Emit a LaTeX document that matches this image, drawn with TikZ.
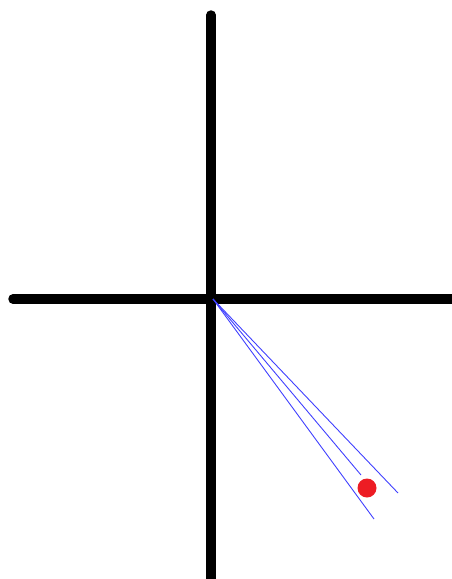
\documentclass[tikz,border=0pt]{standalone}
\begin{document}
\begin{tikzpicture}[x=1pt,y=-1pt,
  axis/.style={line width=9.5pt,black,line cap=round},
  ray/.style={line width=0.9pt,blue!75!white},
  dot/.style={fill={rgb,255:red,237;green,28;blue,36},draw=none}]
\useasboundingbox (0,0) rectangle (452,579);
\coordinate (top) at (211,15);
\coordinate (bot) at (211,585);
\coordinate (left) at (13,299);
\coordinate (right) at (458,299);
\coordinate (o) at (213,299);
\coordinate (e1) at (361,475);
\coordinate (e2) at (398,493);
\coordinate (e3) at (374,519);
\draw[axis] (top) -- (bot);
\draw[axis] (left) -- (right);
\draw[ray] (o) -- (e1);
\draw[ray] (o) -- (e2);
\draw[ray] (o) -- (e3);
\fill[dot] (367,488) circle (9.5);
\end{tikzpicture}
\end{document}
